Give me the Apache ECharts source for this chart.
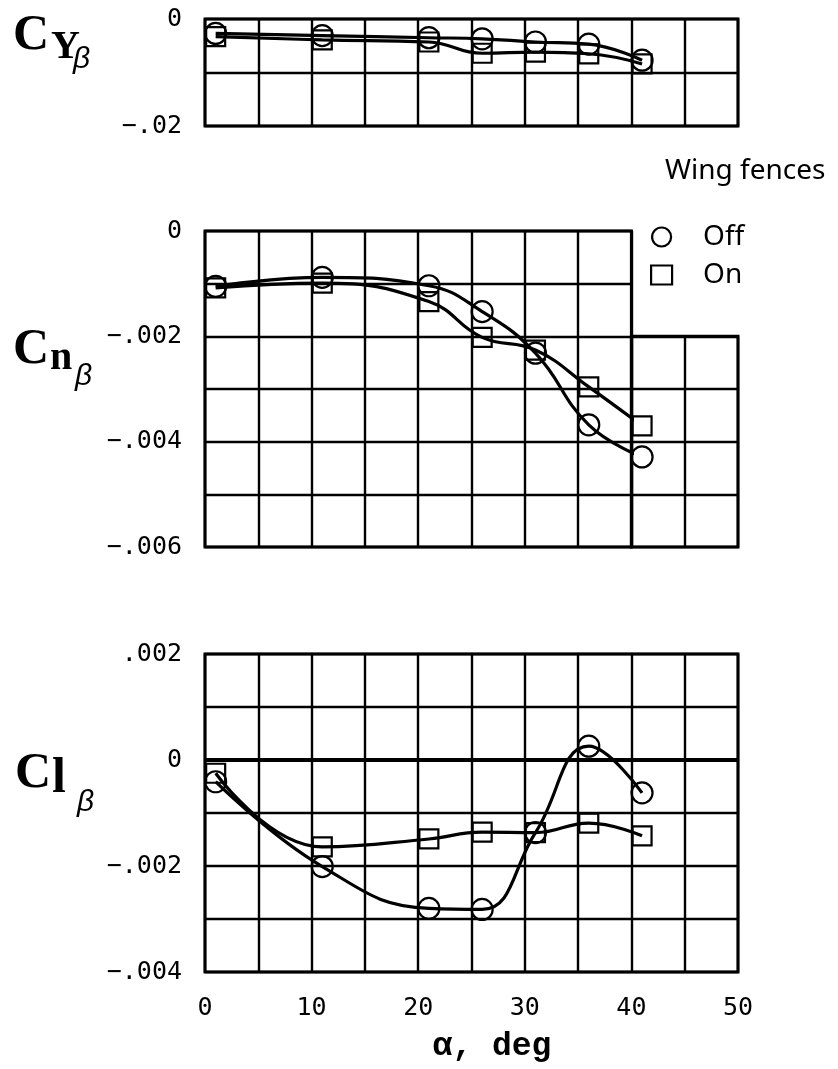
<!DOCTYPE html>
<html>
<head>
<meta charset="utf-8">
<script src="https://cdn.jsdelivr.net/npm/echarts@6/dist/echarts.min.js"></script>
<style>
  html, body { margin: 0; padding: 0; background: #fff; }
  #chart { width: 838px; height: 1069px; }
</style>
</head>
<body>
<div id="chart"></div>
<script>
// Angle of attack, deg
const alpha = [1, 11, 21, 26, 31, 36, 41];

// Side-force derivative C_Y_beta
const cyOff = [-0.0027, -0.0031, -0.0035, -0.0037, -0.0043, -0.0047, -0.0077];
const cyOn  = [-0.0033, -0.0039, -0.0043, -0.0064, -0.0062, -0.0065, -0.0084];

// Yawing-moment derivative C_n_beta
const cnOff = [-0.00105, -0.00088, -0.00104, -0.00153, -0.00232, -0.00368, -0.00429];
const cnOn  = [-0.00108, -0.00099, -0.00134, -0.00202, -0.00226, -0.00296, -0.00370];

// Rolling-moment derivative C_l_beta
const clOff = [-0.00041, -0.00201, -0.00280, -0.00282, -0.00137, 0.00026, -0.00062];
const clOn  = [-0.00025, -0.00164, -0.00149, -0.00136, -0.00137, -0.00119, -0.00143];

// Labelled ticks
const alphaTicks = [0, 10, 20, 30, 40, 50];
const cyTicks = [0, -0.02];
const cnTicks = [0, -0.002, -0.004, -0.006];
const clTicks = [0.002, 0, -0.002, -0.004];

const monoFont = "'DejaVu Sans Mono', 'Liberation Mono', monospace";
const INK = '#000';

function tickFormatter(ticks, digits) {
  return function (v) {
    if (!ticks.some(t => Math.abs(t - v) < 1e-9)) return '';
    if (Math.abs(v) < 1e-12) return '0';
    return (v < 0 ? '\u2212' : '') + Math.abs(v).toFixed(digits).replace(/^0/, '');
  };
}

const gridStyle = { show: true, borderColor: INK, borderWidth: 3, backgroundColor: 'transparent' };
const split = { show: true, lineStyle: { color: INK, width: 2.4 } };
const labelStyle = { color: INK, fontFamily: monoFont, fontSize: 25 };

function xAx(gi, min, max, showLabels) {
  return {
    type: 'value', gridIndex: gi, min: min, max: max, interval: 5,
    axisLine: { show: false }, axisTick: { show: false }, splitLine: split,
    axisLabel: showLabels
      ? Object.assign({ margin: 24, formatter: tickFormatter(alphaTicks, 0) }, labelStyle)
      : { show: false }
  };
}

function yAx(gi, min, max, interval, ticks, digits) {
  return {
    type: 'value', gridIndex: gi, min: min, max: max, interval: interval,
    axisLine: { show: false }, axisTick: { show: false }, splitLine: split,
    axisLabel: ticks
      ? Object.assign({ margin: 23, formatter: tickFormatter(ticks, digits) }, labelStyle)
      : { show: false }
  };
}

function curve(name, values, axisIdx, symbol, size) {
  return {
    name: name, type: 'line',
    xAxisIndex: axisIdx, yAxisIndex: axisIdx,
    data: alpha.map((a, i) => [a, values[i]]),
    smooth: 0.45, clip: false,
    symbol: symbol, symbolSize: size,
    lineStyle: { color: INK, width: 3.2 },
    itemStyle: { color: 'rgba(255,255,255,0)', borderColor: INK, borderWidth: 2.2 },
    emphasis: { disabled: true },
    z: 3
  };
}

const xAxes = [
  xAx(0, 0, 50, false),
  xAx(1, 0, 40, false),
  xAx(2, 40, 50, false),
  Object.assign(xAx(3, 0, 50, true), {
    name: '\u03b1, deg', nameLocation: 'middle', nameGap: 58,
    nameTextStyle: {
      color: INK, fontFamily: "'Liberation Mono', 'DejaVu Sans Mono', monospace",
      fontWeight: 'bold', fontSize: 33, padding: [0, 0, 0, 41]
    }
  })
];

const yAxes = [
  yAx(0, -0.02, 0, 0.01, cyTicks, 2),
  yAx(1, -0.006, 0, 0.001, cnTicks, 3),
  yAx(2, -0.006, -0.002, 0.001, null, 3),
  yAx(3, -0.004, 0.002, 0.001, clTicks, 3)
];

const clOffSeries = curve('Off', clOff, 3, 'circle', 21);
clOffSeries.markLine = {
  silent: true, symbol: 'none', label: { show: false },
  lineStyle: { color: INK, width: 4, type: 'solid' },
  data: [{ yAxis: 0 }]
};

// Coefficient titles: C with subscript letter and beta
function coefTitle(sub, subSize, x, yC, xSub, ySub, xBeta, yBeta) {
  const serif = "'Liberation Serif', 'DejaVu Serif', serif";
  return {
    type: 'group',
    children: [
      { type: 'text', x: x, y: yC,
        style: { text: 'C', font: 'bold 50px ' + serif, fill: INK, verticalAlign: 'middle' } },
      { type: 'text', x: xSub, y: ySub,
        style: { text: sub, font: 'bold ' + subSize + 'px ' + serif, fill: INK, verticalAlign: 'middle' } },
      { type: 'text', x: xBeta, y: yBeta,
        style: { text: '\u03b2', font: "italic 30px 'Liberation Sans', 'DejaVu Sans', sans-serif",
                 fill: INK, verticalAlign: 'middle' } }
    ]
  };
}

const option = {
  animation: false,
  backgroundColor: '#fff',
  title: {
    text: 'Wing fences', left: 660, top: 152,
    textStyle: { color: INK, fontFamily: "'Noto Sans', 'Open Sans', sans-serif",
                 fontSize: 28, fontWeight: 'normal' }
  },
  legend: {
    data: [{ name: 'Off', icon: 'circle' }, { name: 'On', icon: 'rect' }],
    orient: 'vertical', left: 645, top: 218,
    itemWidth: 21, itemHeight: 19, itemGap: 10,
    selectedMode: false,
    itemStyle: { borderWidth: 2.2 },
    textStyle: { color: INK, fontFamily: "'Noto Sans', 'Open Sans', sans-serif",
                 fontSize: 28, padding: [0, 0, 0, 26] }
  },
  grid: [
    Object.assign({ left: 205, top: 19, width: 533, height: 107 }, gridStyle),
    Object.assign({ left: 205, top: 231, width: 426.4, height: 316 }, gridStyle),
    Object.assign({ left: 631.4, top: 336.33, width: 106.6, height: 210.67 }, gridStyle),
    Object.assign({ left: 205, top: 654, width: 533, height: 318 }, gridStyle)
  ],
  xAxis: xAxes,
  yAxis: yAxes,
  series: [
    curve('Off', cyOff, 0, 'circle', 21),
    curve('On', cyOn, 0, 'rect', 19),
    curve('Off', cnOff, 1, 'circle', 21),
    curve('On', cnOn, 1, 'rect', 19),
    clOffSeries,
    curve('On', clOn, 3, 'rect', 19)
  ],
  graphic: [
    coefTitle('Y', 40, 13, 36, 51, 48, 73, 60),
    coefTitle('n', 40, 13, 350, 50, 359, 75, 377),
    coefTitle('l', 50, 15, 774, 52, 779, 77, 803)
  ]
};

const chart = echarts.init(document.getElementById('chart'), null, { renderer: 'canvas' });
chart.setOption(option);
</script>
</body>
</html>
